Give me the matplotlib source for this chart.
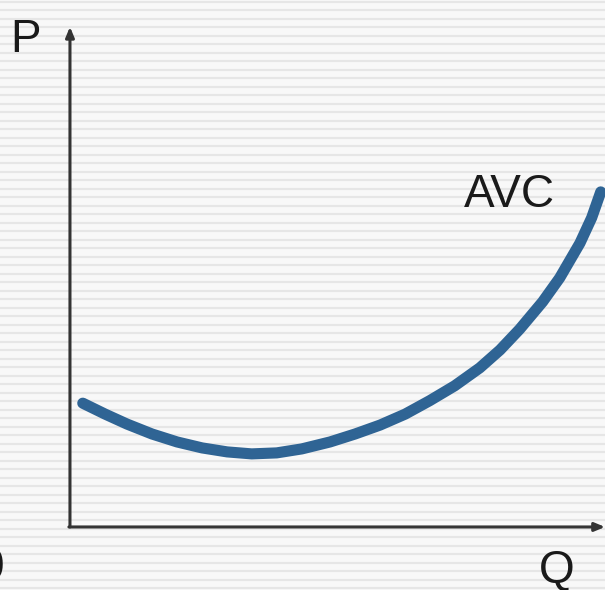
import numpy as np
import matplotlib.pyplot as plt

# AVC curve (Q, P on a 0-10 scale)
q = [0.24, 0.66, 1.07, 1.54, 2.01, 2.48, 2.95, 3.41, 3.88, 4.35, 4.88, 5.35, 5.82,
     6.29, 6.75, 7.22, 7.69, 8.07, 8.44, 8.87, 9.19, 9.57, 9.79, 9.96]
p = [2.49, 2.27, 2.07, 1.87, 1.71, 1.59, 1.51, 1.47, 1.49, 1.57, 1.71, 1.87, 2.05,
     2.27, 2.54, 2.84, 3.20, 3.56, 3.98, 4.53, 5.01, 5.71, 6.22, 6.74]

q_max = 10.04
p_max = 10.0

fig = plt.figure(figsize=(6.05, 5.9), dpi=100)
fig.patch.set_facecolor('#f8f8f8')

# striped slide background
bg = fig.add_axes([0, 0, 1, 1])
bg.set_xlim(0, 605)
bg.set_ylim(0, 590)
for y in np.arange(2, 590, 8.5):
    bg.axhline(y, color='#e6e6e6', lw=1.6)
bg.axis('off')

ax = fig.add_axes([0, 0, 1, 1])
ax.set_facecolor('none')
ax.set_xlim(-1.313, 10.04)
ax.set_ylim(-1.268, 10.60)
ax.axis('off')

# axes with arrow heads
ax.annotate('', xy=(0, p_max + 0.06), xytext=(0, 0),
            arrowprops=dict(arrowstyle='-|>,head_length=0.6,head_width=0.25',
                            color='#333333', lw=2.2, shrinkA=0, shrinkB=0))
ax.annotate('', xy=(q_max, 0), xytext=(-0.02, 0),
            arrowprops=dict(arrowstyle='-|>,head_length=0.6,head_width=0.25',
                            color='#333333', lw=2.2, shrinkA=0, shrinkB=0))

ax.plot(q, p, color='#2f6494', lw=8, solid_capstyle='round', solid_joinstyle='round')

font = dict(fontsize=33, family='Liberation Sans', color='#1a1a1a', va='baseline')
ax.text(-0.83, 9.56, 'P', ha='center', **font)
ax.text(9.14, -1.13, 'Q', ha='center', **font)
ax.text(8.24, 6.44, 'AVC', ha='center', **font)
ax.text(-1.24, -1.07, '0', ha='right', **font)

fig.savefig('out.png', dpi=100, facecolor=fig.get_facecolor())
